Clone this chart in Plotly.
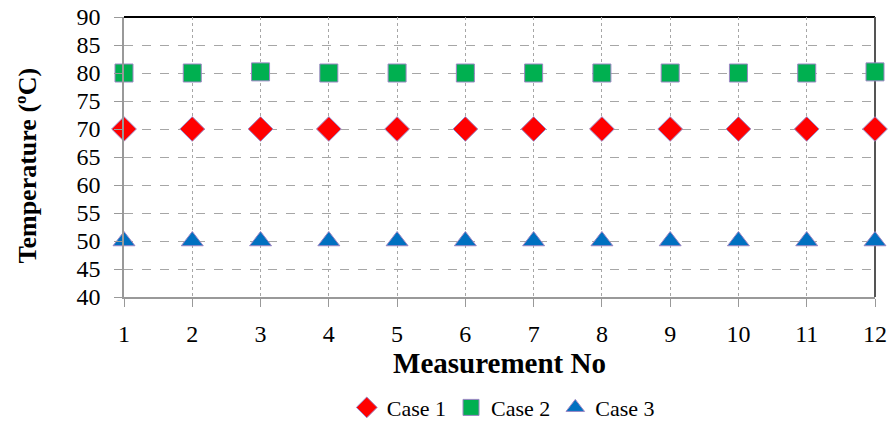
import plotly.graph_objects as go

# Measurement numbers and recorded temperatures (ºC) for each case
measurement_no = [1, 2, 3, 4, 5, 6, 7, 8, 9, 10, 11, 12]
case1 = [70, 70, 70, 70, 70, 70, 70, 70, 70, 70, 70, 70]
case2 = [80, 80, 80.2, 80, 80, 80, 80, 80, 80, 80, 80, 80.2]
case3 = [50, 50, 50, 50, 50, 50, 50, 50, 50, 50, 50, 50]
y_ticks = [40, 45, 50, 55, 60, 65, 70, 75, 80, 85, 90]

serif = "Liberation Serif, Times New Roman, serif"
edge = dict(color="#9c86c4", width=1)

fig = go.Figure()
fig.add_trace(go.Scatter(
    x=measurement_no, y=case1, mode="markers", name="Case 1",
    marker=dict(symbol="diamond", size=19, color="#ff0000", line=edge),
    cliponaxis=False))
fig.add_trace(go.Scatter(
    x=measurement_no, y=case2, mode="markers", name="Case 2",
    marker=dict(symbol="square", size=18, color="#00b050", line=edge),
    cliponaxis=False))
fig.add_trace(go.Scatter(
    x=measurement_no, y=case3, mode="markers", name="Case 3",
    marker=dict(symbol="triangle-up", size=19, color="#0070c0", line=edge),
    cliponaxis=False))

fig.update_layout(
    width=891, height=429,
    margin=dict(l=124, r=16, t=17, b=132, autoexpand=False),
    paper_bgcolor="white", plot_bgcolor="white",
    font=dict(family=serif, color="black", size=24),
    showlegend=True,
    legend=dict(orientation="h", x=0.505, xanchor="center", y=-0.395,
                yanchor="middle", font=dict(size=22, family=serif),
                itemwidth=30, tracegroupgap=0),
    xaxis=dict(
        range=[1, 12], tickvals=measurement_no, automargin=False,
        ticks="outside", ticklen=8, tickcolor="#999999",
        ticklabelstandoff=6,
        showgrid=True, gridcolor="#a6a6a6", griddash="dot", gridwidth=1,
        showline=True, linecolor="#999999", linewidth=1.5, mirror=False,
        zeroline=False,
        title=dict(text="<b>Measurement No</b>", font=dict(size=29, family=serif),
                   standoff=7),
        tickfont=dict(size=24, family=serif)),
    yaxis=dict(
        range=[40, 90], tickvals=y_ticks, automargin=False,
        ticks="outside", ticklen=8, tickcolor="#999999",
        ticklabelstandoff=9,
        showgrid=True, gridcolor="#a6a6a6", griddash="dash", gridwidth=1,
        showline=True, linecolor="#999999", linewidth=1.5,
        zeroline=False,
        tickfont=dict(size=24, family=serif)),
)

# Vertical axis title placed left of the tick labels
fig.add_annotation(text="<b>Temperature (ºC)</b>", textangle=-90,
                   xref="paper", yref="paper", x=-0.129, y=0.47,
                   xanchor="center", yanchor="middle", showarrow=False,
                   font=dict(size=26, family=serif))

# Chart frame: dark top and right edges
fig.add_shape(type="line", xref="paper", yref="paper", x0=0, x1=1, y0=1, y1=1,
              line=dict(color="black", width=2), layer="below")
fig.add_shape(type="line", xref="paper", yref="paper", x0=1, x1=1, y0=0, y1=1,
              line=dict(color="#555555", width=2), layer="below")

fig.write_html("out.html")
